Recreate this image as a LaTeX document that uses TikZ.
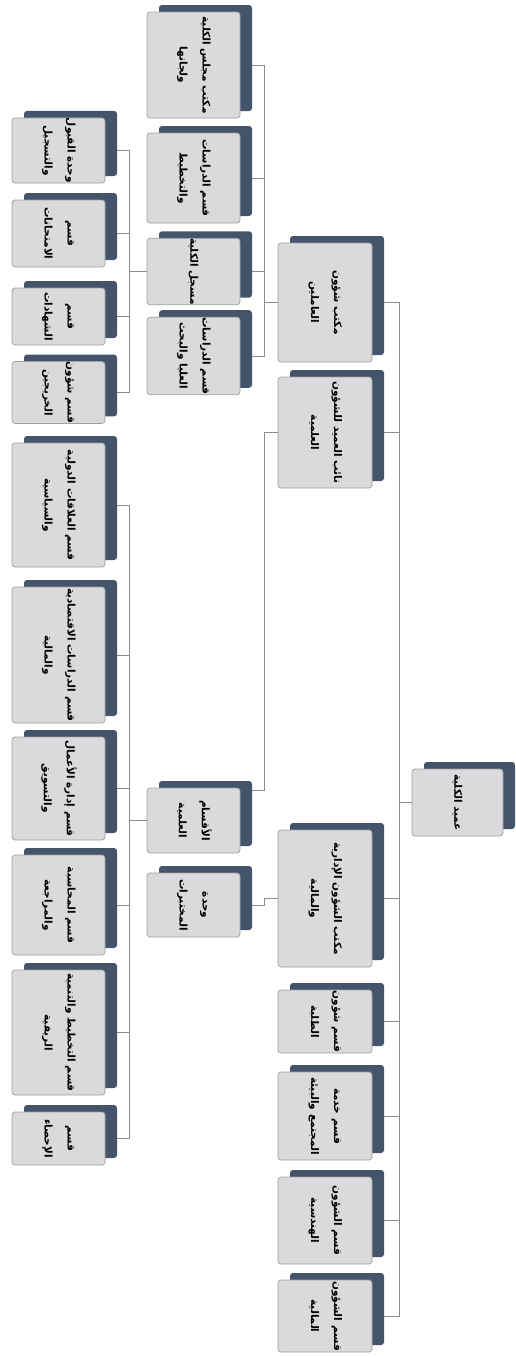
\documentclass[tikz,border=0pt]{standalone}
\usepackage{fontspec}
\usepackage{graphicx}
\newfontfamily\arabicfont[Script=Arabic]{DejaVu Sans}
\TeXXeTstate=1
\usetikzlibrary{shadows,backgrounds}
\definecolor{shadowcol}{HTML}{44546A}
\definecolor{frontfill}{HTML}{DADADC}
\definecolor{frontline}{HTML}{A0A0A0}
\definecolor{conncol}{HTML}{8C8C8C}
\newcommand\onel[1]{\rotatebox{-90}{#1}}
\newcommand\twol[2]{\rotatebox{-90}{\begin{tabular}{@{}c@{}}#1\\[11pt]#2\end{tabular}}}
\begin{document}
\begin{tikzpicture}[x=1pt,y=-1pt,
  box/.style={rectangle, rounded corners=3pt, draw=frontline, fill=frontfill, line width=0.7pt, inner sep=0pt,
    drop shadow={shadow xshift=12pt, shadow yshift=7pt, fill=shadowcol, opacity=1}},
  conn/.style={draw=conncol, line width=0.7pt},
  every node/.append style={font=\arabicfont\bfseries\fontsize{10.5}{12}\selectfont}]
\useasboundingbox (0,0) rectangle (515,1357);
% root
\node[box, minimum width=91pt, minimum height=67pt] (root) at (457.5,802.5) {\onel{\beginR عميد الكلية\endR}};
% level 2
\node[box, minimum width=94pt, minimum height=119pt] (b1) at (325,302.5) {\twol{\beginR مكتب شؤون\endR}{\beginR العاملين\endR}};
\node[box, minimum width=94pt, minimum height=111pt] (b2) at (325,432.5) {\twol{\beginR نائب العميد للشؤون\endR}{\beginR العلمية\endR}};
\node[box, minimum width=94pt, minimum height=137pt] (b3) at (325,898.5) {\twol{\beginR مكتب الشؤون الإدارية\endR}{\beginR والمالية\endR}};
\node[box, minimum width=94pt, minimum height=63pt] (b4) at (325,1021.5) {\twol{\beginR قسم شؤون\endR}{\beginR الطلبة\endR}};
\node[box, minimum width=94pt, minimum height=88pt] (b5) at (325,1116) {\twol{\beginR قسم خدمة\endR}{\beginR المجتمع والبيئة\endR}};
\node[box, minimum width=94pt, minimum height=87pt] (b6) at (325,1220.5) {\twol{\beginR قسم الشؤون\endR}{\beginR الهندسية\endR}};
\node[box, minimum width=94pt, minimum height=72pt] (b7) at (325,1316) {\twol{\beginR قسم الشؤون\endR}{\beginR المالية\endR}};
% level 3
\node[box, minimum width=93pt, minimum height=106pt] (cA) at (193.5,65) {\twol{\beginR مكتب مجلس الكلية\endR}{\beginR ولجانها\endR}};
\node[box, minimum width=93pt, minimum height=90pt] (cB) at (193.5,178) {\twol{\beginR قسم الدراسات\endR}{\beginR والتخطيط\endR}};
\node[box, minimum width=93pt, minimum height=63pt] (cC) at (193.5,271.5) {\onel{\beginR مسجل الكلية\endR}};
\node[box, minimum width=93pt, minimum height=68pt] (cD) at (193.5,356) {\twol{\beginR قسم الدراسات\endR}{\beginR العليا والبحث\endR}};
\node[box, minimum width=93pt, minimum height=65pt] (cE) at (193.5,820.5) {\twol{\beginR الأقسام\endR}{\beginR العلمية\endR}};
\node[box, minimum width=93pt, minimum height=64pt] (cF) at (193.5,905) {\twol{\beginR وحدة\endR}{\beginR المختبرات\endR}};
% level 4 (top)
\node[box, minimum width=93pt, minimum height=65pt] (d1) at (58.5,150.5) {\twol{\beginR وحدة القبول\endR}{\beginR والتسجيل\endR}};
\node[box, minimum width=93pt, minimum height=67pt] (d2) at (58.5,233.5) {\twol{\beginR قسم\endR}{\beginR الامتحانات\endR}};
\node[box, minimum width=93pt, minimum height=57pt] (d3) at (58.5,316.5) {\twol{\beginR قسم\endR}{\beginR الشهادات\endR}};
\node[box, minimum width=93pt, minimum height=59pt] (d4) at (58.5,392.5) {\twol{\beginR قسم شؤون\endR}{\beginR الخريجين\endR}};
% level 4 (bottom)
\node[box, minimum width=93pt, minimum height=124pt] (e1) at (58.5,505) {\twol{\beginR قسم العلاقات الدولية\endR}{\beginR والسياسية\endR}};
\node[box, minimum width=93pt, minimum height=136pt] (e2) at (58.5,655) {\twol{\beginR قسم الدراسات الاقتصادية\endR}{\beginR والمالية\endR}};
\node[box, minimum width=93pt, minimum height=103pt] (e3) at (58.5,788.5) {\twol{\beginR قسم إدارة الأعمال\endR}{\beginR والتسويق\endR}};
\node[box, minimum width=93pt, minimum height=100pt] (e4) at (58.5,905) {\twol{\beginR قسم المحاسبة\endR}{\beginR والمراجعة\endR}};
\node[box, minimum width=93pt, minimum height=125pt] (e5) at (58.5,1032.5) {\twol{\beginR قسم التخطيط والتنمية\endR}{\beginR الريفية\endR}};
\node[box, minimum width=93pt, minimum height=53pt] (e6) at (58.5,1138.5) {\twol{\beginR قسم\endR}{\beginR الإحصاء\endR}};
\begin{pgfonlayer}{background}
\fill[white] (0,0) rectangle (515,1357);
\foreach \c in {b1,b2,b3,b4,b5,b6,b7} \draw[conn] (root.west) -- ++(-12,0) |- (\c.east);
\foreach \c in {cA,cB,cC,cD} \draw[conn] (b1.west) -- ++(-13,0) |- (\c.east);
\draw[conn] (b2.west) -- ++(-13,0) |- ([yshift=30pt]cE.east);
\draw[conn] (b3.west) -- ++(-13,0) |- (cF.east);
\foreach \c in {d1,d2,d3,d4} \draw[conn] (cC.west) -- ++(-17,0) |- (\c.east);
\foreach \c in {e1,e2,e3,e4,e5,e6} \draw[conn] (cE.west) -- ++(-17,0) |- (\c.east);
\end{pgfonlayer}
\end{tikzpicture}
\end{document}
